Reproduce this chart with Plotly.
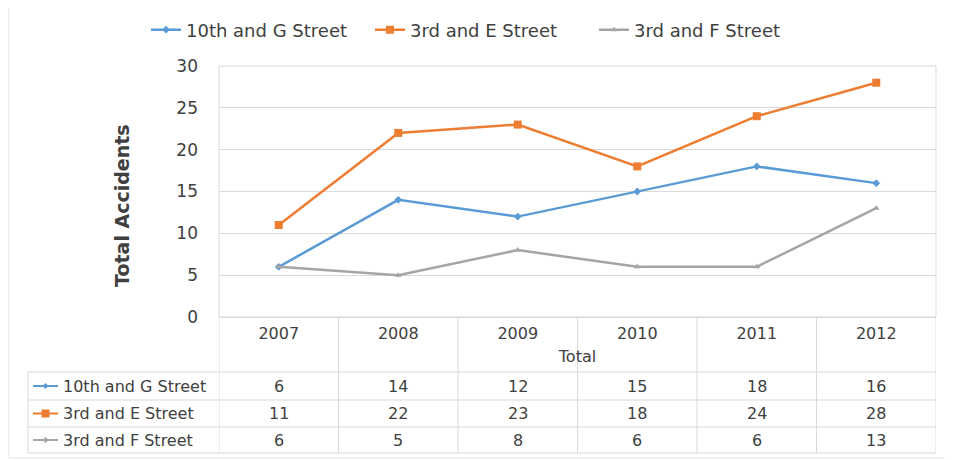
import plotly.graph_objects as go

years = ["2007", "2008", "2009", "2010", "2011", "2012"]
series_names = ["10th and G Street", "3rd and E Street", "3rd and F Street"]
g_street = [6, 14, 12, 15, 18, 16]
e_street = [11, 22, 23, 18, 24, 28]
f_street = [6, 5, 8, 6, 6, 13]
series_values = [g_street, e_street, f_street]
colors = ["#5B9BD5", "#ED7D31", "#A5A5A5"]
symbols = ["diamond", "square", "triangle-up"]
msizes = [6, 8, 6]
y_ticks = [0, 5, 10, 15, 20, 25, 30]

FONT = "DejaVu Sans"
TXT = "#404040"
OFF = 8  # page body margin
W, H = 953 - OFF, 460 - OFF
SL, SR, ST, SB = 219, 936, 66, 317
L, T = SL - OFF, ST - OFF
R = W - (SR - OFF)
B = H - (SB - OFF)
PW, PH = W - L - R, H - T - B


def px(x):
    return (x - SL) / PW


def py(y):
    return (SB - y) / PH


fig = go.Figure()
for name, vals, c, s, ms in zip(series_names, series_values, colors, symbols, msizes):
    fig.add_trace(go.Scatter(
        x=years, y=vals, name=name, mode="lines+markers",
        line=dict(color=c, width=2.5),
        marker=dict(symbol=s, size=ms, color=c),
        cliponaxis=False,
    ))

grid = "#D9D9D9"
shapes = []
annotations = []

shapes.append(dict(type="rect", xref="paper", yref="paper",
                   x0=px(9), x1=px(946), y0=py(5), y1=py(458),
                   line=dict(color="#E3E3E3", width=1), layer="below"))
shapes.append(dict(type="rect", xref="paper", yref="paper", x0=0, x1=1, y0=0, y1=1,
                   line=dict(color=grid, width=1), layer="below"))

row_lines = [372, 400, 427, 453]
row_centers = [386, 413.5, 440]
table_left = 28

for i in range(len(years) + 1):
    shapes.append(dict(type="line", xref="x", yref="paper", x0=i - 0.5, x1=i - 0.5,
                       y0=0, y1=py(row_lines[-1]), line=dict(color=grid, width=1)))
shapes.append(dict(type="line", xref="paper", yref="paper", x0=px(table_left), x1=px(table_left),
                   y0=py(row_lines[0]), y1=py(row_lines[-1]), line=dict(color=grid, width=1)))
for yl in row_lines:
    shapes.append(dict(type="line", xref="paper", yref="paper", x0=px(table_left), x1=1,
                       y0=py(yl), y1=py(yl), line=dict(color=grid, width=1)))

for r, (name, vals, c) in enumerate(zip(series_names, series_values, colors)):
    yc = py(row_centers[r])
    shapes.append(dict(type="line", xref="paper", yref="paper", x0=px(33), x1=px(58),
                       y0=yc, y1=yc, line=dict(color=c, width=2)))
    if r == 1:
        shapes.append(dict(type="rect", xref="paper", yref="paper", xsizemode="pixel",
                           ysizemode="pixel", xanchor=px(45.5), yanchor=yc,
                           x0=-4, x1=4, y0=-4, y1=4, fillcolor=c, line=dict(width=0)))
    else:
        shapes.append(dict(type="path", xref="paper", yref="paper", xsizemode="pixel",
                           ysizemode="pixel", xanchor=px(45.5), yanchor=yc,
                           path="M0,3 L3,0 L0,-3 L-3,0 Z", fillcolor=c, line=dict(width=0)))
    annotations.append(dict(xref="paper", yref="paper", x=px(61), y=yc, xanchor="left",
                            yanchor="middle", text=name, showarrow=False,
                            font=dict(family=FONT, size=16, color=TXT)))
    for i, v in enumerate(vals):
        annotations.append(dict(xref="x", yref="paper", x=i, y=yc, xanchor="center",
                                yanchor="middle", text=str(v), showarrow=False,
                                font=dict(family=FONT, size=16, color=TXT)))

annotations.append(dict(xref="paper", yref="paper", x=px(122), y=py(206), xanchor="center",
                        yanchor="middle", text="<b>Total Accidents</b>", textangle=-90,
                        showarrow=False, font=dict(family=FONT, size=19, color=TXT)))

fig.update_layout(
    width=W, height=H,
    margin=dict(l=L, r=R, t=T, b=B, autoexpand=False),
    paper_bgcolor="white", plot_bgcolor="white",
    font=dict(family=FONT, color=TXT),
    showlegend=True,
    legend=dict(orientation="h", x=px(146), xanchor="left", y=py(30), yanchor="middle",
                font=dict(family=FONT, size=18, color=TXT), itemwidth=30,
                entrywidth=179, entrywidthmode="pixels", tracegroupgap=0),
    xaxis=dict(type="category", range=[-0.5, 5.5], showgrid=False, showline=True,
               linecolor=grid, ticks="", ticklabelstandoff=2,
               tickfont=dict(family=FONT, size=16, color=TXT),
               title=dict(text="Total", font=dict(family=FONT, size=16, color=TXT),
                          standoff=8),
               fixedrange=True),
    yaxis=dict(range=[0, 30], tickvals=y_ticks, showgrid=True, gridcolor=grid,
               zeroline=False, showline=False, ticks="", ticklabelstandoff=20,
               tickfont=dict(family=FONT, size=17, color=TXT),
               fixedrange=True),
    shapes=shapes,
    annotations=annotations,
)

fig.write_html("out.html")
